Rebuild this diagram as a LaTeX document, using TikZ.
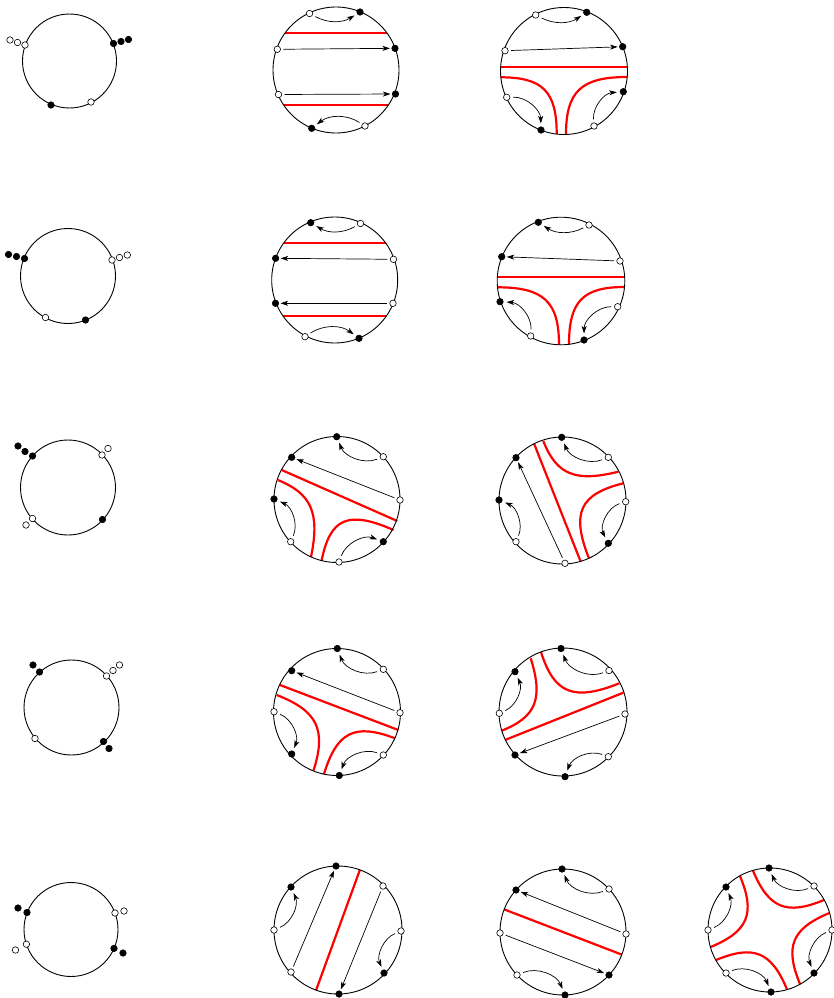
\documentclass[tikz,border=0pt]{standalone}
\usetikzlibrary{arrows.meta,calc}
\tikzset{
 rim/.style={line width=0.9pt},
 wd/.style={circle,draw=black,fill=white,inner sep=0pt,minimum size=6.5pt,line width=0.6pt},
 bd/.style={circle,draw=black,fill=black,inner sep=0pt,minimum size=6.5pt,line width=0.6pt},
 redl/.style={draw=red,line width=2.2pt},
 arr/.style={line width=0.7pt,-{Stealth[length=7.5pt,width=5pt,inset=2pt]},shorten >=1.5pt,shorten <=2.5pt},
 carr/.style={arr,shorten >=3pt,shorten <=3pt},
}
\newcommand\redcorner[3]{\draw[redl] (#1) .. controls ($(#1)!0.75!(#2)$) and ($(#3)!0.75!(#2)$) .. (#3);}
\begin{document}
\begin{tikzpicture}[x=1pt,y=-1pt]
\useasboundingbox (0,0) rectangle (833,998);

% ================= ROW 1 =================
\draw[rim] (69.5,61) circle[radius=47pt];
\node[wd] (a1w) at (25,45) {};
\node[wd] (a1w2) at (17.5,42.5) {};
\node[wd] (a1w3) at (10,40) {};
\node[bd] (a1b) at (113.5,43.5) {};
\node[bd] (a1b2) at (121,41.5) {};
\node[bd] (a1b3) at (128.5,39.5) {};
\node[bd] (a1b4) at (51,105) {};
\node[wd] (a1w4) at (91,102) {};

\draw[redl] (284.8,33.3) -- (387.2,33.3);
\draw[redl] (283.6,105) -- (388.4,105);
\draw[rim] (336,70) circle[radius=63pt];
\node[wd] (b1w1) at (309.5,13.5) {};
\node[bd] (b1b1) at (360,12) {};
\node[wd] (b1w2) at (277.3,49.3) {};
\node[bd] (b1b2) at (395,48.3) {};
\node[wd] (b1w3) at (278.5,94.5) {};
\node[bd] (b1b3) at (395.5,94) {};
\node[bd] (b1b4) at (311.7,128.3) {};
\node[wd] (b1w4) at (365,126) {};
\draw[carr] (b1w1) to[bend right=30] (b1b1);
\draw[arr] (b1w2) -- (b1b2);
\draw[arr] (b1w3) -- (b1b3);
\draw[carr] (b1w4) to[bend right=35] (b1b4);

\draw[redl] (500.6,67.3) -- (627.4,67.3);
\redcorner{500.8,77.3}{556.7,77.3}{556.7,134}
\redcorner{627.2,77}{566,77}{566,134.3}
\draw[rim] (564,71) circle[radius=63.5pt];
\node[wd] (c1w1) at (535.7,15) {};
\node[bd] (c1b1) at (586.7,12.3) {};
\node[wd] (c1w2) at (505,50.7) {};
\node[bd] (c1b2) at (622.7,46.7) {};
\node[wd] (c1w3) at (506.7,97.3) {};
\node[bd] (c1b3) at (541,130) {};
\node[wd] (c1w4) at (594,126) {};
\node[bd] (c1b4) at (623.3,91.7) {};
\draw[carr] (c1w1) to[bend right=30] (c1b1);
\draw[arr] (c1w2) -- (c1b2);
\draw[carr] (c1w3) to[bend left=45] (c1b3);
\draw[carr] (c1w4) to[bend left=45] (c1b4);

% ================= ROW 2 =================
\draw[rim] (68,276) circle[radius=47.5pt];
\node[bd] (a2b) at (24.5,258.5) {};
\node[bd] (a2b2) at (16.5,256.5) {};
\node[bd] (a2b3) at (8.5,254.5) {};
\node[wd] (a2w) at (112,260) {};
\node[wd] (a2w2) at (119.5,257.5) {};
\node[wd] (a2w3) at (127.3,255) {};
\node[wd] (a2w4) at (45.5,317.5) {};
\node[bd] (a2b4) at (85.5,320) {};

\draw[redl] (283.5,243.3) -- (385.9,243.3);
\draw[redl] (283,316) -- (386.4,316);
\draw[rim] (334.7,280) circle[radius=63pt];
\node[bd] (b2b1) at (310.7,222.7) {};
\node[wd] (b2w1) at (360.5,223.5) {};
\node[bd] (b2b2) at (275.6,258.3) {};
\node[wd] (b2w2) at (393.5,259.3) {};
\node[bd] (b2b3) at (275.5,303.3) {};
\node[wd] (b2w3) at (393,303.3) {};
\node[wd] (b2w4) at (305,336.7) {};
\node[bd] (b2b4) at (359,338.3) {};
\draw[carr] (b2w1) to[bend left=30] (b2b1);
\draw[arr] (b2w2) -- (b2b2);
\draw[arr] (b2w3) -- (b2b3);
\draw[carr] (b2w4) to[bend left=35] (b2b4);

\draw[redl] (497.3,277.3) -- (624.7,277.3);
\redcorner{497.5,287.3}{559,287.3}{559,344.8}
\redcorner{624.5,287}{569,287}{569,344.3}
\draw[rim] (561,281) circle[radius=63.8pt];
\node[bd] (c2b1) at (538.3,222.3) {};
\node[wd] (c2w1) at (589,225) {};
\node[bd] (c2b2) at (501.7,256.7) {};
\node[wd] (c2w2) at (620,261) {};
\node[bd] (c2b3) at (500,301.7) {};
\node[wd] (c2w3) at (617.7,306.7) {};
\node[wd] (c2w4) at (530.7,336) {};
\node[bd] (c2b4) at (584,340) {};
\draw[carr] (c2w1) to[bend left=30] (c2b1);
\draw[arr] (c2w2) -- (c2b2);
\draw[carr] (c2w4) to[bend right=45] (c2b3);
\draw[carr] (c2w3) to[bend right=45] (c2b4);

% ================= ROW 3 =================
\draw[rim] (68,487.5) circle[radius=47.5pt];
\node[bd] (a3b) at (32.5,456) {};
\node[bd] (a3b2) at (25,451.5) {};
\node[bd] (a3b3) at (18,446) {};
\node[wd] (a3w) at (102,455) {};
\node[wd] (a3w2) at (108,448.5) {};
\node[wd] (a3w3) at (32.5,518.5) {};
\node[wd] (a3w4) at (26,525) {};
\node[bd] (a3b4) at (102.5,519.5) {};

\draw[redl] (281.7,470) -- (397.3,521);
\redcorner{277.8,480}{323,498.3}{311,557}
\redcorner{393.5,530}{333,503.4}{321.5,561}
\draw[rim] (337,499.5) circle[radius=63pt];
\node[bd] (b3b1) at (336.7,436.7) {};
\node[wd] (b3w1) at (383.3,456.7) {};
\node[bd] (b3b2) at (291.7,457.3) {};
\node[wd] (b3w2) at (400,500) {};
\node[bd] (b3b3) at (274,499) {};
\node[wd] (b3w3) at (290.7,541.7) {};
\node[bd] (b3b4) at (383.3,541.7) {};
\node[wd] (b3w4) at (339,562) {};
\draw[carr] (b3w1) to[bend left=45] (b3b1);
\draw[arr] (b3w2) -- (b3b2);
\draw[carr] (b3w3) to[bend right=45] (b3b3);
\draw[carr] (b3w4) to[bend left=45] (b3b4);

\draw[redl] (534,443.5) -- (580.7,561.7);
\redcorner{543.3,441}{561,486}{618.3,471.7}
\redcorner{589,558.5}{565,497.7}{623.3,483.3}
\draw[rim] (562.5,500.5) circle[radius=63.5pt];
\node[bd] (c3b1) at (561.7,437.3) {};
\node[wd] (c3w1) at (608.3,457.3) {};
\node[bd] (c3b2) at (516,457.7) {};
\node[wd] (c3w2) at (625.7,501.7) {};
\node[bd] (c3b3) at (499,500) {};
\node[wd] (c3w3) at (516,541.7) {};
\node[bd] (c3b4) at (608.3,543.3) {};
\node[wd] (c3w4) at (565,563.3) {};
\draw[carr] (c3w1) to[bend left=45] (c3b1);
\draw[arr] (c3w4) -- (c3b2);
\draw[carr] (c3w3) to[bend right=45] (c3b3);
\draw[carr] (c3w2) to[bend right=50] (c3b4);

% ================= ROW 4 =================
\draw[rim] (71.5,707.5) circle[radius=47.5pt];
\node[bd] (a4b) at (39.5,672) {};
\node[bd] (a4b2) at (33,665) {};
\node[wd] (a4w) at (106.5,676) {};
\node[wd] (a4w2) at (113,670.5) {};
\node[wd] (a4w3) at (119.5,665) {};
\node[wd] (a4w4) at (35,738.5) {};
\node[bd] (a4b4) at (103.5,741.5) {};
\node[bd] (a4b5) at (109,748.5) {};

\draw[redl] (280,685) -- (398.3,730);
\redcorner{276.7,695}{331,716}{313.5,770.5}
\redcorner{395,738.3}{341.2,717.8}{324,774}
\draw[rim] (337,712) circle[radius=63.5pt];
\node[bd] (b4b1) at (337.3,648.5) {};
\node[wd] (b4w1) at (383.3,669.3) {};
\node[bd] (b4b2) at (291.7,670.7) {};
\node[wd] (b4w2) at (400,712.7) {};
\node[wd] (b4w3) at (274,711.7) {};
\node[bd] (b4b3) at (291.7,754) {};
\node[wd] (b4w4) at (383.3,755) {};
\node[bd] (b4b4) at (339.3,775.5) {};
\draw[carr] (b4w1) to[bend left=45] (b4b1);
\draw[arr] (b4w2) -- (b4b2);
\draw[carr] (b4w3) to[bend left=45] (b4b3);
\draw[carr] (b4w4) to[bend right=45] (b4b4);

\draw[redl] (505,740) -- (623.3,692.7);
\redcorner{501.7,730.7}{547.7,712.3}{530.7,658.3}
\redcorner{541,652}{558.5,707.6}{619.3,683.3}
\draw[rim] (563,712) circle[radius=64pt];
\node[bd] (c4b1) at (561,648.5) {};
\node[wd] (c4w1) at (609,670.5) {};
\node[bd] (c4b2) at (515,671.7) {};
\node[wd] (c4w2) at (499.3,713.3) {};
\node[wd] (c4w3) at (625,714) {};
\node[bd] (c4b3) at (515,755) {};
\node[wd] (c4w4) at (608.3,756.7) {};
\node[bd] (c4b4) at (565,776.7) {};
\draw[carr] (c4w1) to[bend left=45] (c4b1);
\draw[carr] (c4w2) to[bend right=45] (c4b2);
\draw[arr] (c4w3) -- (c4b3);
\draw[carr] (c4w4) to[bend right=45] (c4b4);

% ================= ROW 5 =================
\draw[rim] (71,929.5) circle[radius=47pt];
\node[bd] (a5b) at (27,912.5) {};
\node[bd] (a5b2) at (18,908) {};
\node[wd] (a5w) at (115,913) {};
\node[wd] (a5w2) at (124,911) {};
\node[wd] (a5w3) at (26.4,944.2) {};
\node[wd] (a5w4) at (15.5,950) {};
\node[bd] (a5b3) at (114,948.4) {};
\node[bd] (a5b4) at (123,953) {};

\draw[redl] (359.9,869.9) -- (316.1,990.1);
\draw[rim] (338,930) circle[radius=64pt];
\node[bd] (b5b1) at (336,866) {};
\node[wd] (b5w1) at (383,886) {};
\node[bd] (b5b2) at (291,887) {};
\node[wd] (b5w2) at (401,931) {};
\node[wd] (b5w3) at (274,930) {};
\node[bd] (b5b3) at (384,973) {};
\node[wd] (b5w4) at (291,972) {};
\node[bd] (b5b4) at (339,994) {};
\draw[arr] (b5w4) -- (b5b1);
\draw[arr] (b5w1) -- (b5b4);
\draw[carr] (b5w3) to[bend right=45] (b5b2);
\draw[carr] (b5w2) to[bend right=45] (b5b3);

\draw[redl] (504.2,909.4) -- (621.8,954.6);
\draw[rim] (563,932) circle[radius=63pt];
\node[bd] (c5b1) at (562,869) {};
\node[wd] (c5w1) at (609,889) {};
\node[bd] (c5b2) at (516,890) {};
\node[wd] (c5w2) at (500,933) {};
\node[wd] (c5w3) at (626,934) {};
\node[wd] (c5w4) at (517,975) {};
\node[bd] (c5b3) at (609,975) {};
\node[bd] (c5b4) at (565,995) {};
\draw[carr] (c5w1) to[bend left=45] (c5b1);
\draw[arr] (c5w3) -- (c5b2);
\draw[arr] (c5w2) -- (c5b3);
\draw[carr] (c5w4) to[bend left=45] (c5b4);

\redcorner{752.9,870.4}{773.8,920.9}{824.2,899.9}
\redcorner{829.6,912.9}{779.1,933.8}{800.1,984.2}
\redcorner{787.1,989.6}{766.2,939.1}{715.8,960.1}
\redcorner{710.4,947.1}{760.9,926.2}{739.9,875.8}
\draw[rim] (770,930) circle[radius=62pt];
\node[bd] (d5b1) at (769,868) {};
\node[wd] (d5w1) at (814,886) {};
\node[bd] (d5b2) at (726,887) {};
\node[wd] (d5w4) at (708,930) {};
\node[wd] (d5w2) at (832,930) {};
\node[bd] (d5b3) at (814,973) {};
\node[wd] (d5w3) at (726,973) {};
\node[bd] (d5b4) at (771,992) {};
\draw[carr] (d5w1) to[bend left=45] (d5b1);
\draw[carr] (d5w2) to[bend right=45] (d5b3);
\draw[carr] (d5w3) to[bend left=45] (d5b4);
\draw[carr] (d5w4) to[bend right=45] (d5b2);
\end{tikzpicture}
\end{document}
